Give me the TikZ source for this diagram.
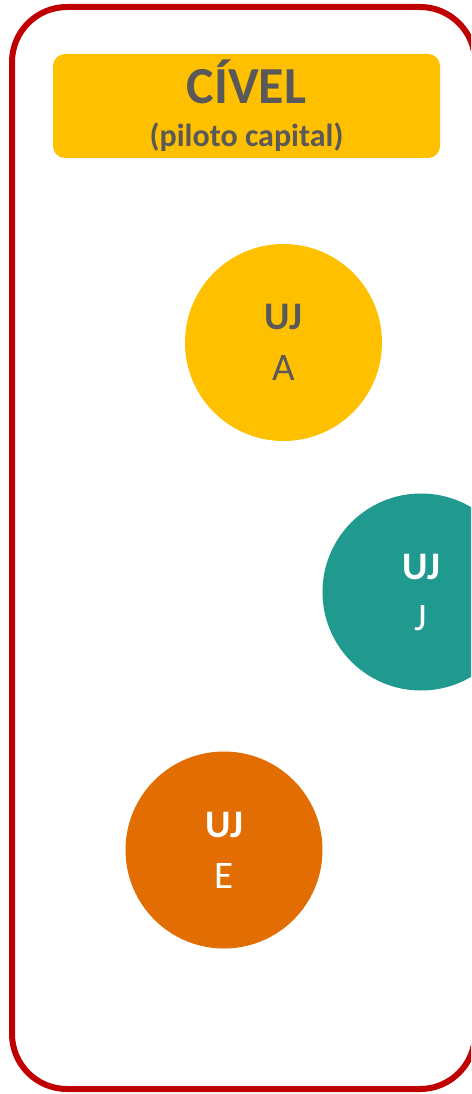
\documentclass[tikz,border=0pt]{standalone}
\usepackage{fontspec}
\setmainfont{Carlito}
\definecolor{framered}{HTML}{C00000}
\definecolor{gold}{HTML}{FFC000}
\definecolor{teal}{HTML}{209A8E}
\definecolor{pumpkin}{HTML}{E26D03}
\definecolor{slate}{HTML}{595959}

\begin{document}
\begin{tikzpicture}[
    x=1pt, y=-1pt,
    frame/.style={draw=framered, line width=6pt, rounded corners=55pt},
    header/.style={fill=gold, rounded corners=12pt, minimum width=387pt, minimum height=104pt, inner sep=0pt, align=center, text=slate},
    unit/.style={circle, minimum size=197pt, inner sep=0pt, align=center, font=\fontsize{39}{51}\selectfont},
    darkunit/.style={unit, text=white}
]
\useasboundingbox (0,0) rectangle (471,1094);
\clip (0,0) rectangle (471,1094);
\draw[frame] (12,7) rectangle (475,1089);
\node[header] (civel) at (246.5,106) {\fontsize{52}{52}\selectfont\bfseries CÍVEL\\[18pt]\fontsize{32}{32}\selectfont\bfseries (piloto capital)};
\node[unit, fill=gold, text=slate] (uja) at (283.5,342.5) {\textbf{UJ}\\A};
\node[darkunit, fill=teal] (ujj) at (421,592) {\textbf{UJ}\\J};
\node[darkunit, fill=pumpkin] (uje) at (224,850) {\textbf{UJ}\\E};
\end{tikzpicture}
\end{document}
